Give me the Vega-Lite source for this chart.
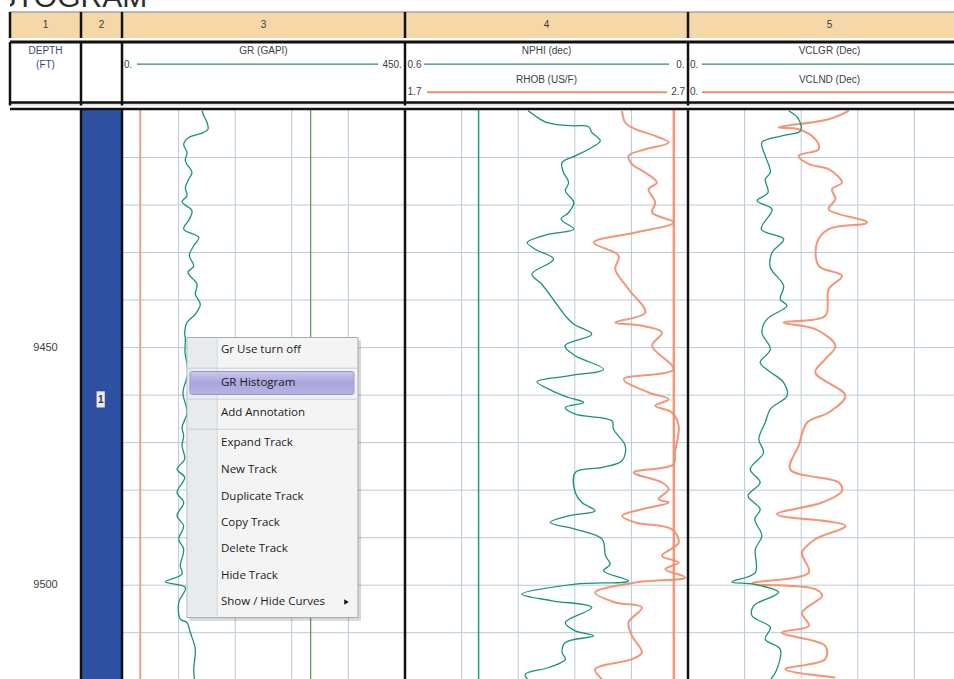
{
"$schema": "https://vega.github.io/schema/vega-lite/v6.json",
"padding": {"left": 8, "top": 0, "right": 0, "bottom": 0},
"background": "#ffffff",
"config": {"view": {"stroke": null}, "axis": {"disable": true}, "legend": {"disable": true}, "font": "Liberation Sans"},
"datasets": {
"hgrid": [{"depth":9410},{"depth":9420},{"depth":9430},{"depth":9440},{"depth":9450},{"depth":9460},{"depth":9470},{"depth":9480},{"depth":9490},{"depth":9500},{"depth":9510}],
"gr": [{"depth":9400.17,"gr":127.2},{"depth":9401.16,"gr":129.9},{"depth":9402.63,"gr":135.2},{"depth":9404.04,"gr":136.7},{"depth":9404.88,"gr":127.2},{"depth":9405.79,"gr":106.1},{"depth":9407.2,"gr":98.1},{"depth":9408.94,"gr":103.4},{"depth":9410.69,"gr":100.7},{"depth":9413.15,"gr":111.3},{"depth":9414.56,"gr":106.1},{"depth":9416.31,"gr":100.7},{"depth":9418.06,"gr":103.4},{"depth":9419.32,"gr":95.4},{"depth":9421.21,"gr":111.3},{"depth":9422.98,"gr":107.0},{"depth":9425.08,"gr":98.1},{"depth":9426.83,"gr":122.0},{"depth":9428.58,"gr":114.0},{"depth":9430.68,"gr":107.0},{"depth":9432.79,"gr":114.0},{"depth":9434.2,"gr":104.9},{"depth":9436.66,"gr":119.3},{"depth":9438.76,"gr":116.6},{"depth":9440.87,"gr":124.5},{"depth":9442.97,"gr":116.6},{"depth":9444.72,"gr":103.4},{"depth":9446.82,"gr":99.7},{"depth":9448.23,"gr":100.7},{"depth":9451.03,"gr":100.2},{"depth":9455.24,"gr":104.9},{"depth":9459.45,"gr":97.0},{"depth":9463.66,"gr":103.4},{"depth":9466.82,"gr":95.4},{"depth":9468.56,"gr":98.1},{"depth":9470.6,"gr":95.4},{"depth":9473.49,"gr":99.7},{"depth":9475.59,"gr":87.5},{"depth":9477.34,"gr":99.7},{"depth":9480.49,"gr":87.5},{"depth":9482.6,"gr":98.1},{"depth":9485.4,"gr":87.5},{"depth":9487.5,"gr":98.1},{"depth":9490.32,"gr":90.2},{"depth":9492.43,"gr":98.1},{"depth":9495.92,"gr":92.7},{"depth":9497.69,"gr":95.4},{"depth":9499.29,"gr":68.9},{"depth":9500.49,"gr":100.7},{"depth":9503.64,"gr":90.2},{"depth":9507.16,"gr":92.7},{"depth":9507.85,"gr":103.4},{"depth":9509.96,"gr":108.6},{"depth":9513.47,"gr":116.6},{"depth":9517.68,"gr":114.0},{"depth":9519.9,"gr":115.4}],
"nphi": [{"depth":9400.17,"nphi":0.339},{"depth":9401.22,"nphi":0.324},{"depth":9402.48,"nphi":0.303},{"depth":9403.2,"nphi":0.267},{"depth":9403.32,"nphi":0.239},{"depth":9403.47,"nphi":0.211},{"depth":9404.73,"nphi":0.204},{"depth":9406.48,"nphi":0.186},{"depth":9408.25,"nphi":0.211},{"depth":9409.64,"nphi":0.239},{"depth":9411.05,"nphi":0.267},{"depth":9413.15,"nphi":0.264},{"depth":9415.26,"nphi":0.253},{"depth":9417.0,"nphi":0.26},{"depth":9419.47,"nphi":0.242},{"depth":9421.57,"nphi":0.253},{"depth":9422.98,"nphi":0.269},{"depth":9425.08,"nphi":0.242},{"depth":9426.14,"nphi":0.295},{"depth":9427.88,"nphi":0.341},{"depth":9429.29,"nphi":0.324},{"depth":9431.4,"nphi":0.285},{"depth":9434.55,"nphi":0.331},{"depth":9436.66,"nphi":0.31},{"depth":9440.51,"nphi":0.281},{"depth":9443.31,"nphi":0.26},{"depth":9445.08,"nphi":0.242},{"depth":9447.18,"nphi":0.204},{"depth":9449.62,"nphi":0.261},{"depth":9451.73,"nphi":0.239},{"depth":9454.55,"nphi":0.179},{"depth":9455.94,"nphi":0.253},{"depth":9457.2,"nphi":0.32},{"depth":9459.09,"nphi":0.288},{"depth":9460.5,"nphi":0.253},{"depth":9461.55,"nphi":0.221},{"depth":9462.61,"nphi":0.26},{"depth":9464.02,"nphi":0.239},{"depth":9465.41,"nphi":0.161},{"depth":9467.17,"nphi":0.158},{"depth":9470.67,"nphi":0.133},{"depth":9473.82,"nphi":0.14},{"depth":9475.23,"nphi":0.182},{"depth":9476.29,"nphi":0.239},{"depth":9480.49,"nphi":0.239},{"depth":9482.6,"nphi":0.225},{"depth":9484.35,"nphi":0.197},{"depth":9485.4,"nphi":0.253},{"depth":9486.81,"nphi":0.292},{"depth":9488.22,"nphi":0.239},{"depth":9490.32,"nphi":0.182},{"depth":9493.82,"nphi":0.175},{"depth":9495.58,"nphi":0.165},{"depth":9496.97,"nphi":0.179},{"depth":9499.08,"nphi":0.126},{"depth":9499.79,"nphi":0.239},{"depth":9501.9,"nphi":0.352},{"depth":9503.28,"nphi":0.288},{"depth":9504.69,"nphi":0.204},{"depth":9507.85,"nphi":0.26},{"depth":9509.6,"nphi":0.239},{"depth":9510.65,"nphi":0.2},{"depth":9512.06,"nphi":0.26},{"depth":9514.17,"nphi":0.267},{"depth":9515.57,"nphi":0.26},{"depth":9517.32,"nphi":0.295},{"depth":9518.73,"nphi":0.345},{"depth":9519.9,"nphi":0.34}],
"rhob": [{"depth":9400.17,"rhob":2.467},{"depth":9402.63,"rhob":2.478},{"depth":9404.04,"rhob":2.514},{"depth":9405.43,"rhob":2.584},{"depth":9406.84,"rhob":2.632},{"depth":9408.25,"rhob":2.549},{"depth":9409.64,"rhob":2.49},{"depth":9411.41,"rhob":2.502},{"depth":9413.15,"rhob":2.549},{"depth":9415.26,"rhob":2.59},{"depth":9416.67,"rhob":2.561},{"depth":9419.47,"rhob":2.584},{"depth":9421.57,"rhob":2.573},{"depth":9423.67,"rhob":2.649},{"depth":9425.78,"rhob":2.514},{"depth":9427.88,"rhob":2.367},{"depth":9430.68,"rhob":2.455},{"depth":9433.5,"rhob":2.443},{"depth":9437.71,"rhob":2.49},{"depth":9442.61,"rhob":2.549},{"depth":9444.72,"rhob":2.443},{"depth":9445.41,"rhob":2.537},{"depth":9446.82,"rhob":2.608},{"depth":9449.62,"rhob":2.573},{"depth":9454.55,"rhob":2.649},{"depth":9456.65,"rhob":2.473},{"depth":9459.45,"rhob":2.561},{"depth":9460.86,"rhob":2.632},{"depth":9462.25,"rhob":2.584},{"depth":9463.66,"rhob":2.643},{"depth":9466.46,"rhob":2.667},{"depth":9472.08,"rhob":2.654},{"depth":9474.54,"rhob":2.649},{"depth":9476.29,"rhob":2.508},{"depth":9478.39,"rhob":2.608},{"depth":9479.8,"rhob":2.632},{"depth":9481.9,"rhob":2.596},{"depth":9482.6,"rhob":2.632},{"depth":9484.01,"rhob":2.537},{"depth":9485.4,"rhob":2.467},{"depth":9486.81,"rhob":2.514},{"depth":9488.22,"rhob":2.643},{"depth":9491.02,"rhob":2.667},{"depth":9493.82,"rhob":2.608},{"depth":9495.22,"rhob":2.667},{"depth":9496.64,"rhob":2.62},{"depth":9498.38,"rhob":2.69},{"depth":9499.43,"rhob":2.514},{"depth":9501.54,"rhob":2.372},{"depth":9503.64,"rhob":2.443},{"depth":9504.69,"rhob":2.537},{"depth":9507.85,"rhob":2.49},{"depth":9510.65,"rhob":2.502},{"depth":9514.17,"rhob":2.537},{"depth":9515.57,"rhob":2.502},{"depth":9517.68,"rhob":2.372},{"depth":9519.78,"rhob":2.396}],
"vclgr": [{"depth":9400.17,"v":0.356},{"depth":9401.94,"v":0.391},{"depth":9404.38,"v":0.397},{"depth":9405.43,"v":0.332},{"depth":9406.84,"v":0.261},{"depth":9409.64,"v":0.273},{"depth":9413.15,"v":0.291},{"depth":9414.56,"v":0.273},{"depth":9417.36,"v":0.283},{"depth":9419.11,"v":0.244},{"depth":9420.88,"v":0.297},{"depth":9425.08,"v":0.259},{"depth":9427.19,"v":0.338},{"depth":9429.99,"v":0.297},{"depth":9433.14,"v":0.291},{"depth":9437.0,"v":0.338},{"depth":9439.82,"v":0.326},{"depth":9441.2,"v":0.35},{"depth":9444.02,"v":0.279},{"depth":9446.82,"v":0.261},{"depth":9450.34,"v":0.291},{"depth":9453.14,"v":0.255},{"depth":9454.88,"v":0.285},{"depth":9457.35,"v":0.338},{"depth":9460.14,"v":0.35},{"depth":9462.96,"v":0.291},{"depth":9465.76,"v":0.273},{"depth":9469.28,"v":0.25},{"depth":9472.08,"v":0.267},{"depth":9475.59,"v":0.22},{"depth":9478.39,"v":0.255},{"depth":9481.19,"v":0.212},{"depth":9484.01,"v":0.255},{"depth":9486.11,"v":0.236},{"depth":9489.61,"v":0.261},{"depth":9492.43,"v":0.238},{"depth":9497.33,"v":0.238},{"depth":9499.29,"v":0.155},{"depth":9499.79,"v":0.232},{"depth":9501.54,"v":0.32},{"depth":9504.34,"v":0.232},{"depth":9506.44,"v":0.226},{"depth":9508.9,"v":0.291},{"depth":9511.37,"v":0.273},{"depth":9513.47,"v":0.326},{"depth":9517.68,"v":0.314},{"depth":9519.9,"v":0.291}],
"vclnd": [{"depth":9400.17,"v":0.568},{"depth":9401.94,"v":0.497},{"depth":9403.68,"v":0.32},{"depth":9404.04,"v":0.391},{"depth":9406.14,"v":0.45},{"depth":9408.25,"v":0.462},{"depth":9409.64,"v":0.391},{"depth":9411.41,"v":0.427},{"depth":9412.46,"v":0.497},{"depth":9415.26,"v":0.544},{"depth":9416.67,"v":0.509},{"depth":9418.77,"v":0.521},{"depth":9420.88,"v":0.497},{"depth":9423.67,"v":0.633},{"depth":9425.08,"v":0.497},{"depth":9427.88,"v":0.456},{"depth":9432.79,"v":0.462},{"depth":9434.89,"v":0.544},{"depth":9437.71,"v":0.497},{"depth":9443.31,"v":0.485},{"depth":9444.72,"v":0.338},{"depth":9446.13,"v":0.45},{"depth":9449.62,"v":0.521},{"depth":9452.44,"v":0.485},{"depth":9455.24,"v":0.45},{"depth":9460.14,"v":0.556},{"depth":9463.66,"v":0.497},{"depth":9465.76,"v":0.421},{"depth":9470.67,"v":0.391},{"depth":9475.59,"v":0.361},{"depth":9478.39,"v":0.533},{"depth":9480.14,"v":0.544},{"depth":9482.6,"v":0.474},{"depth":9485.06,"v":0.314},{"depth":9487.5,"v":0.556},{"depth":9490.32,"v":0.45},{"depth":9493.12,"v":0.403},{"depth":9497.33,"v":0.427},{"depth":9499.58,"v":0.226},{"depth":9500.84,"v":0.45},{"depth":9502.23,"v":0.474},{"depth":9505.75,"v":0.403},{"depth":9508.55,"v":0.427},{"depth":9509.96,"v":0.332},{"depth":9512.76,"v":0.485},{"depth":9515.57,"v":0.485},{"depth":9517.68,"v":0.344},{"depth":9519.43,"v":0.521}]
},
"spacing": 0,
"vconcat": [
 {"width": 946, "height": 10, "data": {"values": [{"t": "HISTOGRAM"}]},
  "mark": {"type": "text", "clip": true, "fontSize": 30, "align": "right", "baseline": "alphabetic", "color": "#2b2b2b"},
  "encoding": {"text": {"field": "t"}, "x": {"datum": 0.145, "type": "quantitative", "scale": {"domain": [0, 1], "nice": false, "zero": false}}, "y": {"datum": 0.72, "type": "quantitative", "scale": {"domain": [0, 1], "reverse": true, "nice": false, "zero": false}}}},
 {"bounds": "flush", "spacing": 0, "hconcat": [
  {"width": 71, "height": 26, "view": {"fill": "#f5d7a8"}, "data": {"values": [{"t": "1"}]}, "layer": [
   {"mark": {"type": "text", "fontSize": 10, "color": "#3a3a3a"}, "encoding": {"text": {"field": "t"}}},
   {"mark": {"type": "rule", "color": "#a5a5a5", "strokeWidth": 1.5}, "encoding": {"y": {"datum": 0, "type": "quantitative", "scale": {"domain": [0, 1], "reverse": true, "nice": false, "zero": false}}}},
   {"mark": {"type": "rule", "color": "#111111", "strokeWidth": 2.5}, "encoding": {"x": {"datum": 0, "type": "quantitative", "scale": {"domain": [0, 1], "nice": false, "zero": false}}}}]},
  {"width": 41, "height": 26, "view": {"fill": "#f5d7a8"}, "data": {"values": [{"t": "2"}]}, "layer": [
   {"mark": {"type": "text", "fontSize": 10, "color": "#3a3a3a"}, "encoding": {"text": {"field": "t"}}},
   {"mark": {"type": "rule", "color": "#a5a5a5", "strokeWidth": 1.5}, "encoding": {"y": {"datum": 0, "type": "quantitative", "scale": {"domain": [0, 1], "reverse": true, "nice": false, "zero": false}}}},
   {"mark": {"type": "rule", "color": "#111111", "strokeWidth": 2.5}, "encoding": {"x": {"datum": 0, "type": "quantitative", "scale": {"domain": [0, 1], "nice": false, "zero": false}}}}]},
  {"width": 283, "height": 26, "view": {"fill": "#f5d7a8"}, "data": {"values": [{"t": "3"}]}, "layer": [
   {"mark": {"type": "text", "fontSize": 10, "color": "#3a3a3a"}, "encoding": {"text": {"field": "t"}}},
   {"mark": {"type": "rule", "color": "#a5a5a5", "strokeWidth": 1.5}, "encoding": {"y": {"datum": 0, "type": "quantitative", "scale": {"domain": [0, 1], "reverse": true, "nice": false, "zero": false}}}},
   {"mark": {"type": "rule", "color": "#111111", "strokeWidth": 2.5}, "encoding": {"x": {"datum": 0, "type": "quantitative", "scale": {"domain": [0, 1], "nice": false, "zero": false}}}}]},
  {"width": 283, "height": 26, "view": {"fill": "#f5d7a8"}, "data": {"values": [{"t": "4"}]}, "layer": [
   {"mark": {"type": "text", "fontSize": 10, "color": "#3a3a3a"}, "encoding": {"text": {"field": "t"}}},
   {"mark": {"type": "rule", "color": "#a5a5a5", "strokeWidth": 1.5}, "encoding": {"y": {"datum": 0, "type": "quantitative", "scale": {"domain": [0, 1], "reverse": true, "nice": false, "zero": false}}}},
   {"mark": {"type": "rule", "color": "#111111", "strokeWidth": 2.5}, "encoding": {"x": {"datum": 0, "type": "quantitative", "scale": {"domain": [0, 1], "nice": false, "zero": false}}}}]},
  {"width": 266, "height": 26, "view": {"fill": "#f5d7a8"}, "data": {"values": [{"t": "5"}]}, "layer": [
   {"mark": {"type": "text", "fontSize": 10, "color": "#3a3a3a"}, "encoding": {"text": {"field": "t"}, "x": {"datum": 0.5, "type": "quantitative", "scale": {"domain": [0, 0.94], "nice": false, "zero": false}}}},
   {"mark": {"type": "rule", "color": "#a5a5a5", "strokeWidth": 1.5}, "encoding": {"y": {"datum": 0, "type": "quantitative", "scale": {"domain": [0, 1], "reverse": true, "nice": false, "zero": false}}}},
   {"mark": {"type": "rule", "color": "#111111", "strokeWidth": 2.5}, "encoding": {"x": {"datum": 0, "type": "quantitative", "scale": {"domain": [0, 0.94], "nice": false, "zero": false}}}}]}
 ]},
 {"bounds": "flush", "spacing": 0, "hconcat": [
  {"width": 71, "height": 63.5, "view": {"fill": "#ffffff"}, "data": {"values": [{}]}, "layer": [
   {"mark": {"type": "rect", "fill": "#e8e0dc"}, "encoding": {"x": {"datum": 0, "type": "quantitative", "scale": {"domain": [0, 1], "nice": false, "zero": false}}, "x2": {"datum": 1}, "y": {"datum": 1, "type": "quantitative", "scale": {"domain": [0, 1.0496], "reverse": true, "nice": false, "zero": false}}, "y2": {"datum": 1.0496}}},
   {"mark": {"type": "rule", "color": "#111111", "strokeWidth": 3}, "encoding": {"y": {"datum": 0, "type": "quantitative", "scale": {"domain": [0, 1.0496], "reverse": true, "nice": false, "zero": false}}}},
   {"mark": {"type": "rule", "color": "#111111", "strokeWidth": 2.5}, "encoding": {"y": {"datum": 1, "type": "quantitative", "scale": {"domain": [0, 1.0496], "reverse": true, "nice": false, "zero": false}}}},
   {"mark": {"type": "rule", "color": "#111111", "strokeWidth": 2.5}, "encoding": {"x": {"datum": 0, "type": "quantitative", "scale": {"domain": [0, 1], "nice": false, "zero": false}}, "y": {"datum": 0, "type": "quantitative", "scale": {"domain": [0, 1.0496], "reverse": true, "nice": false, "zero": false}}, "y2": {"datum": 1.0496}}},
   {"data": {"values": [{"t": "DEPTH"}]}, "mark": {"type": "text", "fontSize": 10, "color": "#2f4a78"}, "encoding": {"text": {"field": "t"}, "x": {"datum": 0.5, "type": "quantitative", "scale": {"domain": [0, 1], "nice": false, "zero": false}}, "y": {"datum": 0.157, "type": "quantitative", "scale": {"domain": [0, 1.0496], "reverse": true, "nice": false, "zero": false}}}},
   {"data": {"values": [{"t": "(FT)"}]}, "mark": {"type": "text", "fontSize": 10, "color": "#2f4a78"}, "encoding": {"text": {"field": "t"}, "x": {"datum": 0.5, "type": "quantitative", "scale": {"domain": [0, 1], "nice": false, "zero": false}}, "y": {"datum": 0.388, "type": "quantitative", "scale": {"domain": [0, 1.0496], "reverse": true, "nice": false, "zero": false}}}}]},
  {"width": 41, "height": 63.5, "view": {"fill": "#ffffff"}, "data": {"values": [{}]}, "layer": [
   {"mark": {"type": "rect", "fill": "#e8e0dc"}, "encoding": {"x": {"datum": 0, "type": "quantitative", "scale": {"domain": [0, 1], "nice": false, "zero": false}}, "x2": {"datum": 1}, "y": {"datum": 1, "type": "quantitative", "scale": {"domain": [0, 1.0496], "reverse": true, "nice": false, "zero": false}}, "y2": {"datum": 1.0496}}},
   {"mark": {"type": "rule", "color": "#111111", "strokeWidth": 3}, "encoding": {"y": {"datum": 0, "type": "quantitative", "scale": {"domain": [0, 1.0496], "reverse": true, "nice": false, "zero": false}}}},
   {"mark": {"type": "rule", "color": "#111111", "strokeWidth": 2.5}, "encoding": {"y": {"datum": 1, "type": "quantitative", "scale": {"domain": [0, 1.0496], "reverse": true, "nice": false, "zero": false}}}},
   {"mark": {"type": "rule", "color": "#111111", "strokeWidth": 2.5}, "encoding": {"x": {"datum": 0, "type": "quantitative", "scale": {"domain": [0, 1], "nice": false, "zero": false}}, "y": {"datum": 0, "type": "quantitative", "scale": {"domain": [0, 1.0496], "reverse": true, "nice": false, "zero": false}}, "y2": {"datum": 1.0496}}}]},
  {"width": 283, "height": 63.5, "view": {"fill": "#ffffff"}, "data": {"values": [{}]}, "layer": [
   {"mark": {"type": "rect", "fill": "#e8e0dc"}, "encoding": {"x": {"datum": 0, "type": "quantitative", "scale": {"domain": [0, 1], "nice": false, "zero": false}}, "x2": {"datum": 1}, "y": {"datum": 1, "type": "quantitative", "scale": {"domain": [0, 1.0496], "reverse": true, "nice": false, "zero": false}}, "y2": {"datum": 1.0496}}},
   {"mark": {"type": "rule", "color": "#111111", "strokeWidth": 3}, "encoding": {"y": {"datum": 0, "type": "quantitative", "scale": {"domain": [0, 1.0496], "reverse": true, "nice": false, "zero": false}}}},
   {"mark": {"type": "rule", "color": "#111111", "strokeWidth": 2.5}, "encoding": {"y": {"datum": 1, "type": "quantitative", "scale": {"domain": [0, 1.0496], "reverse": true, "nice": false, "zero": false}}}},
   {"mark": {"type": "rule", "color": "#111111", "strokeWidth": 2.5}, "encoding": {"x": {"datum": 0, "type": "quantitative", "scale": {"domain": [0, 1], "nice": false, "zero": false}}, "y": {"datum": 0, "type": "quantitative", "scale": {"domain": [0, 1.0496], "reverse": true, "nice": false, "zero": false}}, "y2": {"datum": 1.0496}}},
   {"data": {"values": [{"t": "GR (GAPI)"}]}, "mark": {"type": "text", "fontSize": 10, "color": "#404040"}, "encoding": {"text": {"field": "t"}, "x": {"datum": 0.5, "type": "quantitative", "scale": {"domain": [0, 1], "nice": false, "zero": false}}, "y": {"datum": 0.157, "type": "quantitative", "scale": {"domain": [0, 1.0496], "reverse": true, "nice": false, "zero": false}}}},
   {"mark": {"type": "rule", "color": "#2e8f5c", "strokeWidth": 1.2}, "encoding": {"x": {"datum": 0.053, "type": "quantitative", "scale": {"domain": [0, 1], "nice": false, "zero": false}}, "x2": {"datum": 0.905}, "y": {"datum": 0.367, "type": "quantitative", "scale": {"domain": [0, 1.0496], "reverse": true, "nice": false, "zero": false}}}},
   {"data": {"values": [{"t": "0."}]}, "mark": {"type": "text", "fontSize": 10, "color": "#404040", "align": "left"}, "encoding": {"text": {"field": "t"}, "x": {"datum": 0.007, "type": "quantitative", "scale": {"domain": [0, 1], "nice": false, "zero": false}}, "y": {"datum": 0.375, "type": "quantitative", "scale": {"domain": [0, 1.0496], "reverse": true, "nice": false, "zero": false}}}},
   {"data": {"values": [{"t": "450."}]}, "mark": {"type": "text", "fontSize": 10, "color": "#404040", "align": "right"}, "encoding": {"text": {"field": "t"}, "x": {"datum": 0.989, "type": "quantitative", "scale": {"domain": [0, 1], "nice": false, "zero": false}}, "y": {"datum": 0.375, "type": "quantitative", "scale": {"domain": [0, 1.0496], "reverse": true, "nice": false, "zero": false}}}}]},
  {"width": 283, "height": 63.5, "view": {"fill": "#ffffff"}, "data": {"values": [{}]}, "layer": [
   {"mark": {"type": "rect", "fill": "#e8e0dc"}, "encoding": {"x": {"datum": 0, "type": "quantitative", "scale": {"domain": [0, 1], "nice": false, "zero": false}}, "x2": {"datum": 1}, "y": {"datum": 1, "type": "quantitative", "scale": {"domain": [0, 1.0496], "reverse": true, "nice": false, "zero": false}}, "y2": {"datum": 1.0496}}},
   {"mark": {"type": "rule", "color": "#111111", "strokeWidth": 3}, "encoding": {"y": {"datum": 0, "type": "quantitative", "scale": {"domain": [0, 1.0496], "reverse": true, "nice": false, "zero": false}}}},
   {"mark": {"type": "rule", "color": "#111111", "strokeWidth": 2.5}, "encoding": {"y": {"datum": 1, "type": "quantitative", "scale": {"domain": [0, 1.0496], "reverse": true, "nice": false, "zero": false}}}},
   {"mark": {"type": "rule", "color": "#111111", "strokeWidth": 2.5}, "encoding": {"x": {"datum": 0, "type": "quantitative", "scale": {"domain": [0, 1], "nice": false, "zero": false}}, "y": {"datum": 0, "type": "quantitative", "scale": {"domain": [0, 1.0496], "reverse": true, "nice": false, "zero": false}}, "y2": {"datum": 1.0496}}},
   {"data": {"values": [{"t": "NPHI (dec)"}]}, "mark": {"type": "text", "fontSize": 10, "color": "#404040"}, "encoding": {"text": {"field": "t"}, "x": {"datum": 0.5, "type": "quantitative", "scale": {"domain": [0, 1], "nice": false, "zero": false}}, "y": {"datum": 0.157, "type": "quantitative", "scale": {"domain": [0, 1.0496], "reverse": true, "nice": false, "zero": false}}}},
   {"mark": {"type": "rule", "color": "#2e8f5c", "strokeWidth": 1.2}, "encoding": {"x": {"datum": 0.067, "type": "quantitative", "scale": {"domain": [0, 1], "nice": false, "zero": false}}, "x2": {"datum": 0.933}, "y": {"datum": 0.367, "type": "quantitative", "scale": {"domain": [0, 1.0496], "reverse": true, "nice": false, "zero": false}}}},
   {"data": {"values": [{"t": "0.6"}]}, "mark": {"type": "text", "fontSize": 10, "color": "#404040", "align": "left"}, "encoding": {"text": {"field": "t"}, "x": {"datum": 0.009, "type": "quantitative", "scale": {"domain": [0, 1], "nice": false, "zero": false}}, "y": {"datum": 0.375, "type": "quantitative", "scale": {"domain": [0, 1.0496], "reverse": true, "nice": false, "zero": false}}}},
   {"data": {"values": [{"t": "0."}]}, "mark": {"type": "text", "fontSize": 10, "color": "#404040", "align": "right"}, "encoding": {"text": {"field": "t"}, "x": {"datum": 0.988, "type": "quantitative", "scale": {"domain": [0, 1], "nice": false, "zero": false}}, "y": {"datum": 0.375, "type": "quantitative", "scale": {"domain": [0, 1.0496], "reverse": true, "nice": false, "zero": false}}}},
   {"data": {"values": [{"t": "RHOB (US/F)"}]}, "mark": {"type": "text", "fontSize": 10, "color": "#404040"}, "encoding": {"text": {"field": "t"}, "x": {"datum": 0.5, "type": "quantitative", "scale": {"domain": [0, 1], "nice": false, "zero": false}}, "y": {"datum": 0.636, "type": "quantitative", "scale": {"domain": [0, 1.0496], "reverse": true, "nice": false, "zero": false}}}},
   {"mark": {"type": "rule", "color": "#f08a6a", "strokeWidth": 2}, "encoding": {"x": {"datum": 0.078, "type": "quantitative", "scale": {"domain": [0, 1], "nice": false, "zero": false}}, "x2": {"datum": 0.926}, "y": {"datum": 0.83, "type": "quantitative", "scale": {"domain": [0, 1.0496], "reverse": true, "nice": false, "zero": false}}}},
   {"data": {"values": [{"t": "1.7"}]}, "mark": {"type": "text", "fontSize": 10, "color": "#404040", "align": "left"}, "encoding": {"text": {"field": "t"}, "x": {"datum": 0.009, "type": "quantitative", "scale": {"domain": [0, 1], "nice": false, "zero": false}}, "y": {"datum": 0.83, "type": "quantitative", "scale": {"domain": [0, 1.0496], "reverse": true, "nice": false, "zero": false}}}},
   {"data": {"values": [{"t": "2.7"}]}, "mark": {"type": "text", "fontSize": 10, "color": "#404040", "align": "right"}, "encoding": {"text": {"field": "t"}, "x": {"datum": 0.99, "type": "quantitative", "scale": {"domain": [0, 1], "nice": false, "zero": false}}, "y": {"datum": 0.83, "type": "quantitative", "scale": {"domain": [0, 1.0496], "reverse": true, "nice": false, "zero": false}}}}]},
  {"width": 266, "height": 63.5, "view": {"fill": "#ffffff"}, "data": {"values": [{}]}, "layer": [
   {"mark": {"type": "rect", "fill": "#e8e0dc"}, "encoding": {"x": {"datum": 0, "type": "quantitative", "scale": {"domain": [0, 0.94], "nice": false, "zero": false}}, "x2": {"datum": 0.94}, "y": {"datum": 1, "type": "quantitative", "scale": {"domain": [0, 1.0496], "reverse": true, "nice": false, "zero": false}}, "y2": {"datum": 1.0496}}},
   {"mark": {"type": "rule", "color": "#111111", "strokeWidth": 3}, "encoding": {"y": {"datum": 0, "type": "quantitative", "scale": {"domain": [0, 1.0496], "reverse": true, "nice": false, "zero": false}}}},
   {"mark": {"type": "rule", "color": "#111111", "strokeWidth": 2.5}, "encoding": {"y": {"datum": 1, "type": "quantitative", "scale": {"domain": [0, 1.0496], "reverse": true, "nice": false, "zero": false}}}},
   {"mark": {"type": "rule", "color": "#111111", "strokeWidth": 2.5}, "encoding": {"x": {"datum": 0, "type": "quantitative", "scale": {"domain": [0, 0.94], "nice": false, "zero": false}}, "y": {"datum": 0, "type": "quantitative", "scale": {"domain": [0, 1.0496], "reverse": true, "nice": false, "zero": false}}, "y2": {"datum": 1.0496}}},
   {"data": {"values": [{"t": "VCLGR (Dec)"}]}, "mark": {"type": "text", "fontSize": 10, "color": "#404040"}, "encoding": {"text": {"field": "t"}, "x": {"datum": 0.5, "type": "quantitative", "scale": {"domain": [0, 0.94], "nice": false, "zero": false}}, "y": {"datum": 0.157, "type": "quantitative", "scale": {"domain": [0, 1.0496], "reverse": true, "nice": false, "zero": false}}}},
   {"mark": {"type": "rule", "color": "#2e8f5c", "strokeWidth": 1.2}, "encoding": {"x": {"datum": 0.049, "type": "quantitative", "scale": {"domain": [0, 0.94], "nice": false, "zero": false}}, "x2": {"datum": 0.94}, "y": {"datum": 0.367, "type": "quantitative", "scale": {"domain": [0, 1.0496], "reverse": true, "nice": false, "zero": false}}}},
   {"data": {"values": [{"t": "0."}]}, "mark": {"type": "text", "fontSize": 10, "color": "#404040", "align": "left"}, "encoding": {"text": {"field": "t"}, "x": {"datum": 0.007, "type": "quantitative", "scale": {"domain": [0, 0.94], "nice": false, "zero": false}}, "y": {"datum": 0.375, "type": "quantitative", "scale": {"domain": [0, 1.0496], "reverse": true, "nice": false, "zero": false}}}},
   {"data": {"values": [{"t": "VCLND (Dec)"}]}, "mark": {"type": "text", "fontSize": 10, "color": "#404040"}, "encoding": {"text": {"field": "t"}, "x": {"datum": 0.5, "type": "quantitative", "scale": {"domain": [0, 0.94], "nice": false, "zero": false}}, "y": {"datum": 0.636, "type": "quantitative", "scale": {"domain": [0, 1.0496], "reverse": true, "nice": false, "zero": false}}}},
   {"mark": {"type": "rule", "color": "#f08a6a", "strokeWidth": 2}, "encoding": {"x": {"datum": 0.049, "type": "quantitative", "scale": {"domain": [0, 0.94], "nice": false, "zero": false}}, "x2": {"datum": 0.94}, "y": {"datum": 0.83, "type": "quantitative", "scale": {"domain": [0, 1.0496], "reverse": true, "nice": false, "zero": false}}}},
   {"data": {"values": [{"t": "0."}]}, "mark": {"type": "text", "fontSize": 10, "color": "#404040", "align": "left"}, "encoding": {"text": {"field": "t"}, "x": {"datum": 0.007, "type": "quantitative", "scale": {"domain": [0, 0.94], "nice": false, "zero": false}}, "y": {"datum": 0.83, "type": "quantitative", "scale": {"domain": [0, 1.0496], "reverse": true, "nice": false, "zero": false}}}}]}
 ]},
 {"bounds": "flush", "spacing": 0, "hconcat": [
 {"width": 71, "height": 571, "view": {"fill": "#ffffff"}, "data": {"values": [{}]}, "layer": [
  {"mark": {"type": "rule", "color": "#111111", "strokeWidth": 2.5}, "encoding": {"y": {"datum": 9399.79, "type": "quantitative", "scale": {"domain": [9399.79, 9519.95], "reverse": true, "nice": false, "zero": false}}}},
  {"data": {"values": [{"depth": 9450, "lbl": "9450"}, {"depth": 9500, "lbl": "9500"}]}, "mark": {"type": "text", "fontSize": 11, "color": "#3d3d3d"}, "encoding": {"text": {"field": "lbl", "type": "nominal"}, "y": {"field": "depth", "type": "quantitative", "scale": {"domain": [9399.79, 9519.95], "reverse": true, "nice": false, "zero": false}}}}]},
 {"width": 41, "height": 571, "view": {"fill": "#2e50a0"}, "data": {"values": [{}]}, "layer": [
  {"mark": {"type": "rule", "color": "#111111", "strokeWidth": 2.5}, "encoding": {"y": {"datum": 9399.79, "type": "quantitative", "scale": {"domain": [9399.79, 9519.95], "reverse": true, "nice": false, "zero": false}}}},
  {"mark": {"type": "rule", "color": "#111111", "strokeWidth": 2.5}, "encoding": {"x": {"datum": 0, "type": "quantitative", "scale": {"domain": [0, 1], "nice": false, "zero": false}}}},
  {"mark": {"type": "rect", "fill": "#eeeaf0"}, "encoding": {"x": {"datum": 0.38, "type": "quantitative", "scale": {"domain": [0, 1], "nice": false, "zero": false}}, "x2": {"datum": 0.58}, "y": {"datum": 9459.2, "type": "quantitative", "scale": {"domain": [9399.79, 9519.95], "reverse": true, "nice": false, "zero": false}}, "y2": {"datum": 9462.6}}},
  {"data": {"values": [{"zone": "1"}]}, "mark": {"type": "text", "fontSize": 10, "fontWeight": "bold", "color": "#333333"}, "encoding": {"text": {"field": "zone"}, "x": {"datum": 0.48, "type": "quantitative", "scale": {"domain": [0, 1], "nice": false, "zero": false}}, "y": {"datum": 9460.95, "type": "quantitative", "scale": {"domain": [9399.79, 9519.95], "reverse": true, "nice": false, "zero": false}}}}]},
 {"width": 283, "height": 571, "view": {"fill": "#ffffff"}, "data": {"values": [{}]}, "layer": [
  {"data": {"name": "hgrid"}, "mark": {"type": "rule", "color": "#b9cbd6", "strokeWidth": 1}, "encoding": {"y": {"field": "depth", "type": "quantitative", "scale": {"domain": [9399.79, 9519.95], "reverse": true, "nice": false, "zero": false}}}},
  {"data": {"values": [{"gr": 90}, {"gr": 180}, {"gr": 270}, {"gr": 360}]}, "mark": {"type": "rule", "color": "#b9cbd6", "strokeWidth": 1}, "encoding": {"x": {"field": "gr", "type": "quantitative", "scale": {"domain": [0, 450], "nice": false, "zero": false}}}},
  {"data": {"values": [{"gr": 29}]}, "mark": {"type": "rule", "color": "#f2a283", "strokeWidth": 2}, "encoding": {"x": {"field": "gr", "type": "quantitative", "scale": {"domain": [0, 450], "nice": false, "zero": false}}}},
  {"data": {"values": [{"gr": 300}]}, "mark": {"type": "rule", "color": "#4f9b4f", "strokeWidth": 1.2}, "encoding": {"x": {"field": "gr", "type": "quantitative", "scale": {"domain": [0, 450], "nice": false, "zero": false}}}},
  {"data": {"name": "gr"}, "mark": {"type": "line", "color": "#17937a", "strokeWidth": 1.3, "clip": true, "interpolate": "catmull-rom"}, "encoding": {"x": {"field": "gr", "type": "quantitative", "scale": {"domain": [0, 450], "nice": false, "zero": false}}, "y": {"field": "depth", "type": "quantitative", "scale": {"domain": [9399.79, 9519.95], "reverse": true, "nice": false, "zero": false}}, "order": {"field": "depth", "type": "quantitative"}}},
  {"mark": {"type": "rule", "color": "#111111", "strokeWidth": 2.5}, "encoding": {"y": {"datum": 9399.79, "type": "quantitative", "scale": {"domain": [9399.79, 9519.95], "reverse": true, "nice": false, "zero": false}}}},
  {"mark": {"type": "rule", "color": "#111111", "strokeWidth": 2.5}, "encoding": {"x": {"datum": 0, "type": "quantitative", "scale": {"domain": [0, 450], "nice": false, "zero": false}}}},
  {"mark": {"type": "rect", "fill": "#000000", "opacity": 0.16}, "encoding": {"x": {"datum": 107.5, "type": "quantitative", "scale": {"domain": [0, 450], "nice": false, "zero": false}}, "x2": {"datum": 380}, "y": {"datum": 9448.5, "type": "quantitative", "scale": {"domain": [9399.79, 9519.95], "reverse": true, "nice": false, "zero": false}}, "y2": {"datum": 9507.5}}},
  {"mark": {"type": "rect", "fill": "#f4f4f4", "stroke": "#a3adb5", "strokeWidth": 1}, "encoding": {"x": {"datum": 103.4, "type": "quantitative", "scale": {"domain": [0, 450], "nice": false, "zero": false}}, "x2": {"datum": 375.3}, "y": {"datum": 9447.88, "type": "quantitative", "scale": {"domain": [9399.79, 9519.95], "reverse": true, "nice": false, "zero": false}}, "y2": {"datum": 9506.8}}},
  {"mark": {"type": "rect", "fill": "#e7ebee"}, "encoding": {"x": {"datum": 104.5, "type": "quantitative", "scale": {"domain": [0, 450], "nice": false, "zero": false}}, "x2": {"datum": 151.1}, "y": {"datum": 9448.1, "type": "quantitative", "scale": {"domain": [9399.79, 9519.95], "reverse": true, "nice": false, "zero": false}}, "y2": {"datum": 9506.6}}},
  {"mark": {"type": "rule", "color": "#d2d8dc", "strokeWidth": 1}, "encoding": {"x": {"datum": 151.5, "type": "quantitative", "scale": {"domain": [0, 450], "nice": false, "zero": false}}, "y": {"datum": 9448.1, "type": "quantitative", "scale": {"domain": [9399.79, 9519.95], "reverse": true, "nice": false, "zero": false}}, "y2": {"datum": 9506.6}}},
  {"mark": {"type": "rule", "color": "#c5d0d8", "strokeWidth": 1}, "encoding": {"x": {"datum": 104.5, "type": "quantitative", "scale": {"domain": [0, 450], "nice": false, "zero": false}}, "x2": {"datum": 374.5}, "y": {"datum": 9454.33, "type": "quantitative", "scale": {"domain": [9399.79, 9519.95], "reverse": true, "nice": false, "zero": false}}}},
  {"mark": {"type": "rule", "color": "#c5d0d8", "strokeWidth": 1}, "encoding": {"x": {"datum": 104.5, "type": "quantitative", "scale": {"domain": [0, 450], "nice": false, "zero": false}}, "x2": {"datum": 374.5}, "y": {"datum": 9460.86, "type": "quantitative", "scale": {"domain": [9399.79, 9519.95], "reverse": true, "nice": false, "zero": false}}}},
  {"mark": {"type": "rule", "color": "#c5d0d8", "strokeWidth": 1}, "encoding": {"x": {"datum": 104.5, "type": "quantitative", "scale": {"domain": [0, 450], "nice": false, "zero": false}}, "x2": {"datum": 374.5}, "y": {"datum": 9467.17, "type": "quantitative", "scale": {"domain": [9399.79, 9519.95], "reverse": true, "nice": false, "zero": false}}}},
  {"mark": {"type": "rect", "cornerRadius": 2, "stroke": "#9894cc", "strokeWidth": 1, "fill": {"gradient": "linear", "x1": 0, "y1": 0, "x2": 0, "y2": 1, "stops": [{"offset": 0, "color": "#cbc8ee"}, {"offset": 0.5, "color": "#a9a5dd"}, {"offset": 1, "color": "#b7b4e3"}]}}, "encoding": {"x": {"datum": 108.1, "type": "quantitative", "scale": {"domain": [0, 450], "nice": false, "zero": false}}, "x2": {"datum": 368.9}, "y": {"datum": 9455.03, "type": "quantitative", "scale": {"domain": [9399.79, 9519.95], "reverse": true, "nice": false, "zero": false}}, "y2": {"datum": 9459.87}}},
  {"data": {"values": [{"t": "Gr Use turn off"}]}, "mark": {"type": "text", "font": "Open Sans", "fontSize": 11.5, "color": "#1b1b1b", "align": "left"}, "encoding": {"text": {"field": "t"}, "x": {"datum": 157.4, "type": "quantitative", "scale": {"domain": [0, 450], "nice": false, "zero": false}}, "y": {"datum": 9450.61, "type": "quantitative", "scale": {"domain": [9399.79, 9519.95], "reverse": true, "nice": false, "zero": false}}}},
  {"data": {"values": [{"t": "GR Histogram"}]}, "mark": {"type": "text", "font": "Open Sans", "fontSize": 11.5, "color": "#1b1b1b", "align": "left"}, "encoding": {"text": {"field": "t"}, "x": {"datum": 157.4, "type": "quantitative", "scale": {"domain": [0, 450], "nice": false, "zero": false}}, "y": {"datum": 9457.45, "type": "quantitative", "scale": {"domain": [9399.79, 9519.95], "reverse": true, "nice": false, "zero": false}}}},
  {"data": {"values": [{"t": "Add Annotation"}]}, "mark": {"type": "text", "font": "Open Sans", "fontSize": 11.5, "color": "#1b1b1b", "align": "left"}, "encoding": {"text": {"field": "t"}, "x": {"datum": 157.4, "type": "quantitative", "scale": {"domain": [0, 450], "nice": false, "zero": false}}, "y": {"datum": 9463.66, "type": "quantitative", "scale": {"domain": [9399.79, 9519.95], "reverse": true, "nice": false, "zero": false}}}},
  {"data": {"values": [{"t": "Expand Track"}]}, "mark": {"type": "text", "font": "Open Sans", "fontSize": 11.5, "color": "#1b1b1b", "align": "left"}, "encoding": {"text": {"field": "t"}, "x": {"datum": 157.4, "type": "quantitative", "scale": {"domain": [0, 450], "nice": false, "zero": false}}, "y": {"datum": 9470.18, "type": "quantitative", "scale": {"domain": [9399.79, 9519.95], "reverse": true, "nice": false, "zero": false}}}},
  {"data": {"values": [{"t": "New Track"}]}, "mark": {"type": "text", "font": "Open Sans", "fontSize": 11.5, "color": "#1b1b1b", "align": "left"}, "encoding": {"text": {"field": "t"}, "x": {"datum": 157.4, "type": "quantitative", "scale": {"domain": [0, 450], "nice": false, "zero": false}}, "y": {"datum": 9475.72, "type": "quantitative", "scale": {"domain": [9399.79, 9519.95], "reverse": true, "nice": false, "zero": false}}}},
  {"data": {"values": [{"t": "Duplicate Track"}]}, "mark": {"type": "text", "font": "Open Sans", "fontSize": 11.5, "color": "#1b1b1b", "align": "left"}, "encoding": {"text": {"field": "t"}, "x": {"datum": 157.4, "type": "quantitative", "scale": {"domain": [0, 450], "nice": false, "zero": false}}, "y": {"datum": 9481.34, "type": "quantitative", "scale": {"domain": [9399.79, 9519.95], "reverse": true, "nice": false, "zero": false}}}},
  {"data": {"values": [{"t": "Copy Track"}]}, "mark": {"type": "text", "font": "Open Sans", "fontSize": 11.5, "color": "#1b1b1b", "align": "left"}, "encoding": {"text": {"field": "t"}, "x": {"datum": 157.4, "type": "quantitative", "scale": {"domain": [0, 450], "nice": false, "zero": false}}, "y": {"datum": 9486.91, "type": "quantitative", "scale": {"domain": [9399.79, 9519.95], "reverse": true, "nice": false, "zero": false}}}},
  {"data": {"values": [{"t": "Delete Track"}]}, "mark": {"type": "text", "font": "Open Sans", "fontSize": 11.5, "color": "#1b1b1b", "align": "left"}, "encoding": {"text": {"field": "t"}, "x": {"datum": 157.4, "type": "quantitative", "scale": {"domain": [0, 450], "nice": false, "zero": false}}, "y": {"datum": 9492.43, "type": "quantitative", "scale": {"domain": [9399.79, 9519.95], "reverse": true, "nice": false, "zero": false}}}},
  {"data": {"values": [{"t": "Hide Track"}]}, "mark": {"type": "text", "font": "Open Sans", "fontSize": 11.5, "color": "#1b1b1b", "align": "left"}, "encoding": {"text": {"field": "t"}, "x": {"datum": 157.4, "type": "quantitative", "scale": {"domain": [0, 450], "nice": false, "zero": false}}, "y": {"datum": 9497.96, "type": "quantitative", "scale": {"domain": [9399.79, 9519.95], "reverse": true, "nice": false, "zero": false}}}},
  {"data": {"values": [{"t": "Show / Hide Curves"}]}, "mark": {"type": "text", "font": "Open Sans", "fontSize": 11.5, "color": "#1b1b1b", "align": "left"}, "encoding": {"text": {"field": "t"}, "x": {"datum": 157.4, "type": "quantitative", "scale": {"domain": [0, 450], "nice": false, "zero": false}}, "y": {"datum": 9503.54, "type": "quantitative", "scale": {"domain": [9399.79, 9519.95], "reverse": true, "nice": false, "zero": false}}}},
  {"mark": {"type": "point", "shape": "triangle-right", "size": 28, "filled": true, "color": "#111111", "opacity": 1}, "encoding": {"x": {"datum": 357, "type": "quantitative", "scale": {"domain": [0, 450], "nice": false, "zero": false}}, "y": {"datum": 9503.54, "type": "quantitative", "scale": {"domain": [9399.79, 9519.95], "reverse": true, "nice": false, "zero": false}}}}]},
 {"width": 283, "height": 571, "view": {"fill": "#ffffff"}, "data": {"values": [{}]}, "resolve": {"scale": {"x": "independent"}}, "layer": [
  {"data": {"name": "hgrid"}, "mark": {"type": "rule", "color": "#b9cbd6", "strokeWidth": 1}, "encoding": {"y": {"field": "depth", "type": "quantitative", "scale": {"domain": [9399.79, 9519.95], "reverse": true, "nice": false, "zero": false}}}},
  {"data": {"values": [{"nphi": 0.48}, {"nphi": 0.36}, {"nphi": 0.24}, {"nphi": 0.12}]}, "mark": {"type": "rule", "color": "#b9cbd6", "strokeWidth": 1}, "encoding": {"x": {"field": "nphi", "type": "quantitative", "scale": {"domain": [0, 0.6], "reverse": true, "nice": false, "zero": false}}}},
  {"data": {"values": [{"nphi": 0.444}]}, "mark": {"type": "rule", "color": "#1e9a7e", "strokeWidth": 1.5}, "encoding": {"x": {"field": "nphi", "type": "quantitative", "scale": {"domain": [0, 0.6], "reverse": true, "nice": false, "zero": false}}}},
  {"data": {"values": [{"rhob": 2.65}]}, "mark": {"type": "rule", "color": "#f29878", "strokeWidth": 2.5}, "encoding": {"x": {"field": "rhob", "type": "quantitative", "scale": {"domain": [1.7, 2.7], "nice": false, "zero": false}}}},
  {"data": {"name": "rhob"}, "mark": {"type": "line", "color": "#f28a68", "strokeWidth": 2, "opacity": 0.9, "clip": true, "interpolate": "catmull-rom"}, "encoding": {"x": {"field": "rhob", "type": "quantitative", "scale": {"domain": [1.7, 2.7], "nice": false, "zero": false}}, "y": {"field": "depth", "type": "quantitative", "scale": {"domain": [9399.79, 9519.95], "reverse": true, "nice": false, "zero": false}}, "order": {"field": "depth", "type": "quantitative"}}},
  {"data": {"name": "nphi"}, "mark": {"type": "line", "color": "#17937a", "strokeWidth": 1.3, "clip": true, "interpolate": "catmull-rom"}, "encoding": {"x": {"field": "nphi", "type": "quantitative", "scale": {"domain": [0, 0.6], "reverse": true, "nice": false, "zero": false}}, "y": {"field": "depth", "type": "quantitative", "scale": {"domain": [9399.79, 9519.95], "reverse": true, "nice": false, "zero": false}}, "order": {"field": "depth", "type": "quantitative"}}},
  {"mark": {"type": "rule", "color": "#111111", "strokeWidth": 2.5}, "encoding": {"y": {"datum": 9399.79, "type": "quantitative", "scale": {"domain": [9399.79, 9519.95], "reverse": true, "nice": false, "zero": false}}}},
  {"mark": {"type": "rule", "color": "#111111", "strokeWidth": 2.5}, "encoding": {"x": {"datum": 0.6, "type": "quantitative", "scale": {"domain": [0, 0.6], "reverse": true, "nice": false, "zero": false}}}}]},
 {"width": 266, "height": 571, "view": {"fill": "#ffffff"}, "data": {"values": [{}]}, "layer": [
  {"data": {"name": "hgrid"}, "mark": {"type": "rule", "color": "#b9cbd6", "strokeWidth": 1}, "encoding": {"y": {"field": "depth", "type": "quantitative", "scale": {"domain": [9399.79, 9519.95], "reverse": true, "nice": false, "zero": false}}}},
  {"data": {"values": [{"v": 0.2}, {"v": 0.4}, {"v": 0.6}, {"v": 0.8}]}, "mark": {"type": "rule", "color": "#b9cbd6", "strokeWidth": 1}, "encoding": {"x": {"field": "v", "type": "quantitative", "scale": {"domain": [0, 0.94], "nice": false, "zero": false}}}},
  {"data": {"name": "vclnd"}, "mark": {"type": "line", "color": "#f28a68", "strokeWidth": 2, "opacity": 0.9, "clip": true, "interpolate": "catmull-rom"}, "encoding": {"x": {"field": "v", "type": "quantitative", "scale": {"domain": [0, 0.94], "nice": false, "zero": false}}, "y": {"field": "depth", "type": "quantitative", "scale": {"domain": [9399.79, 9519.95], "reverse": true, "nice": false, "zero": false}}, "order": {"field": "depth", "type": "quantitative"}}},
  {"data": {"name": "vclgr"}, "mark": {"type": "line", "color": "#17937a", "strokeWidth": 1.3, "clip": true, "interpolate": "catmull-rom"}, "encoding": {"x": {"field": "v", "type": "quantitative", "scale": {"domain": [0, 0.94], "nice": false, "zero": false}}, "y": {"field": "depth", "type": "quantitative", "scale": {"domain": [9399.79, 9519.95], "reverse": true, "nice": false, "zero": false}}, "order": {"field": "depth", "type": "quantitative"}}},
  {"mark": {"type": "rule", "color": "#111111", "strokeWidth": 2.5}, "encoding": {"y": {"datum": 9399.79, "type": "quantitative", "scale": {"domain": [9399.79, 9519.95], "reverse": true, "nice": false, "zero": false}}}},
  {"mark": {"type": "rule", "color": "#111111", "strokeWidth": 2.5}, "encoding": {"x": {"datum": 0, "type": "quantitative", "scale": {"domain": [0, 0.94], "nice": false, "zero": false}}}}]}
 ]}
]
}
